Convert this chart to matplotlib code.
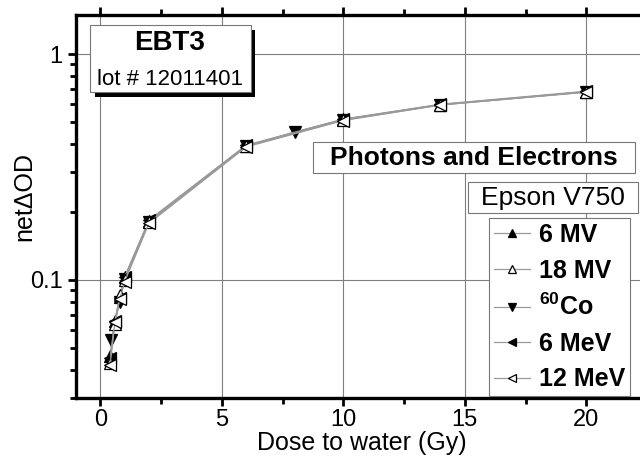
import matplotlib
matplotlib.use("Agg")
import matplotlib.pyplot as plt
from matplotlib.patches import Rectangle
from matplotlib.ticker import FixedLocator, LogLocator, NullFormatter, FuncFormatter

plt.rcParams['font.family'] = ['Liberation Sans', 'DejaVu Sans']
plt.rcParams['mathtext.fontset'] = 'custom'
plt.rcParams['mathtext.rm'] = 'Liberation Sans'
plt.rcParams['mathtext.bf'] = 'Liberation Sans:bold'

# ---- data ----
dose_6mv = [0.4, 0.6, 0.8, 1.0, 2.0, 6.0, 10.0, 14.0, 20.0]
od_6mv = [0.046, 0.066, 0.084, 0.103, 0.183, 0.393, 0.515, 0.598, 0.682]

dose_18mv = [0.4, 0.6, 0.8, 1.0, 2.0, 6.0, 10.0, 14.0, 20.0]
od_18mv = [0.043, 0.064, 0.086, 0.100, 0.180, 0.390, 0.510, 0.595, 0.680]

dose_co = [0.45, 0.8, 1.0, 2.0, 6.0, 8.0, 10.0, 14.0, 20.0]
od_co = [0.054, 0.080, 0.101, 0.181, 0.390, 0.452, 0.512, 0.597, 0.680]

dose_6mev = [0.4, 0.6, 0.8, 1.0, 2.0, 6.0, 10.0, 14.0, 20.0]
od_6mev = [0.045, 0.066, 0.083, 0.103, 0.184, 0.395, 0.515, 0.600, 0.685]

dose_12mev = [0.4, 0.6, 0.8, 1.0, 2.0, 6.0, 10.0, 14.0, 20.0]
od_12mev = [0.042, 0.065, 0.082, 0.098, 0.178, 0.388, 0.508, 0.595, 0.678]

labels = ['6 MV', '18 MV', r'$^{\mathbf{60}}$Co', '6 MeV', '12 MeV']
x_ticks = [0, 5, 10, 15, 20]
y_ticks = [0.1, 1]

W, H = 640, 468
fig = plt.figure(figsize=(6.4, 4.68), dpi=100)
ax = fig.add_axes([76 / W, 1 - 398 / H, (647 - 76) / W, (398 - 15) / H])

series = [
    (dose_6mv, od_6mv, '^', 'black', 3),
    (dose_18mv, od_18mv, '^', 'white', 5),
    (dose_co, od_co, 'v', 'black', 3),
    (dose_6mev, od_6mev, '<', 'black', 3),
    (dose_12mev, od_12mev, '<', 'white', 5),
]
handles = []
for (d, v, m, fc, z), lab in zip(series, labels):
    h, = ax.plot(d, v, color='#999999', lw=0.9, marker=m, markersize=8,
                 markerfacecolor=fc, markeredgecolor='black', markeredgewidth=0.9,
                 label=lab, zorder=z)
    handles.append(h)

ax.set_yscale('log')
ax.set_xlim(-1, 22.5)
ax.set_ylim(0.03, 1.49)

ax.xaxis.set_major_locator(FixedLocator(x_ticks))
ax.xaxis.set_minor_locator(FixedLocator([2.5, 7.5, 12.5, 17.5]))
ax.yaxis.set_major_locator(FixedLocator(y_ticks))
ax.yaxis.set_minor_locator(LogLocator(base=10, subs=range(2, 10)))
ax.yaxis.set_minor_formatter(NullFormatter())
ax.yaxis.set_major_formatter(FuncFormatter(lambda v, p: '1' if v >= 1 else '0.1'))

ax.tick_params(axis='x', which='both', direction='out', top=True, bottom=True,
               labeltop=False, labelsize=17, width=2, pad=2)
ax.tick_params(axis='x', which='major', length=6)
ax.tick_params(axis='x', which='minor', length=4)
ax.tick_params(axis='y', which='both', direction='out', left=True, right=False,
               labelsize=17, width=2)
ax.tick_params(axis='y', which='major', length=6)
ax.tick_params(axis='y', which='minor', length=4)

for s in ax.spines.values():
    s.set_linewidth(2.4)

ax.grid(True, which='major', color='#7f7f7f', lw=0.8)
ax.set_axisbelow(True)

ax.set_xlabel('Dose to water (Gy)', fontsize=18, labelpad=0)
ax.set_ylabel('netΔOD', fontsize=18)
ax.yaxis.set_label_coords(-0.070, 0.527)

def px_rect(x0, y0, x1, y1, **kw):
    r = Rectangle((x0 / W, 1 - y1 / H), (x1 - x0) / W, (y1 - y0) / H,
                  transform=fig.transFigure, **kw)
    fig.patches.append(r)

def px_text(x, y, s, **kw):
    fig.text(x / W, 1 - y / H, s, ha='center', va='center', **kw)

# EBT3 box with shadow
px_rect(95, 30, 255, 97, facecolor='black', edgecolor='none', zorder=5)
px_rect(90, 25, 251, 92, facecolor='white', edgecolor='#777777', lw=0.8, zorder=6)
px_text(170, 43, 'EBT3', fontsize=20, fontweight='bold', zorder=7)
px_text(170, 79, 'lot # 12011401', fontsize=16, zorder=7)

# Photons and Electrons
px_rect(313, 142, 635, 173, facecolor='white', edgecolor='#777777', lw=0.8, zorder=6)
px_text(474, 158, 'Photons and Electrons', fontsize=19, fontweight='bold', zorder=7)

# Epson V750
px_rect(468, 182, 638, 213, facecolor='white', edgecolor='#777777', lw=0.8, zorder=6)
px_text(553, 198, 'Epson V750', fontsize=19, zorder=7)

leg = fig.legend(handles=handles, labels=labels, loc='upper left',
                 bbox_to_anchor=(489 / W, 1 - 218 / H),
                 bbox_transform=fig.transFigure, borderaxespad=0,
                 prop={'weight': 'bold', 'size': 18}, frameon=True,
                 fancybox=False, framealpha=1, edgecolor='#777777',
                 handlelength=1.45, handletextpad=0.35, labelspacing=0.46,
                 borderpad=0.2, markerscale=0.8)
leg.get_frame().set_linewidth(0.8)
leg.set_zorder(8)

fig.savefig('out.png', dpi=100)
